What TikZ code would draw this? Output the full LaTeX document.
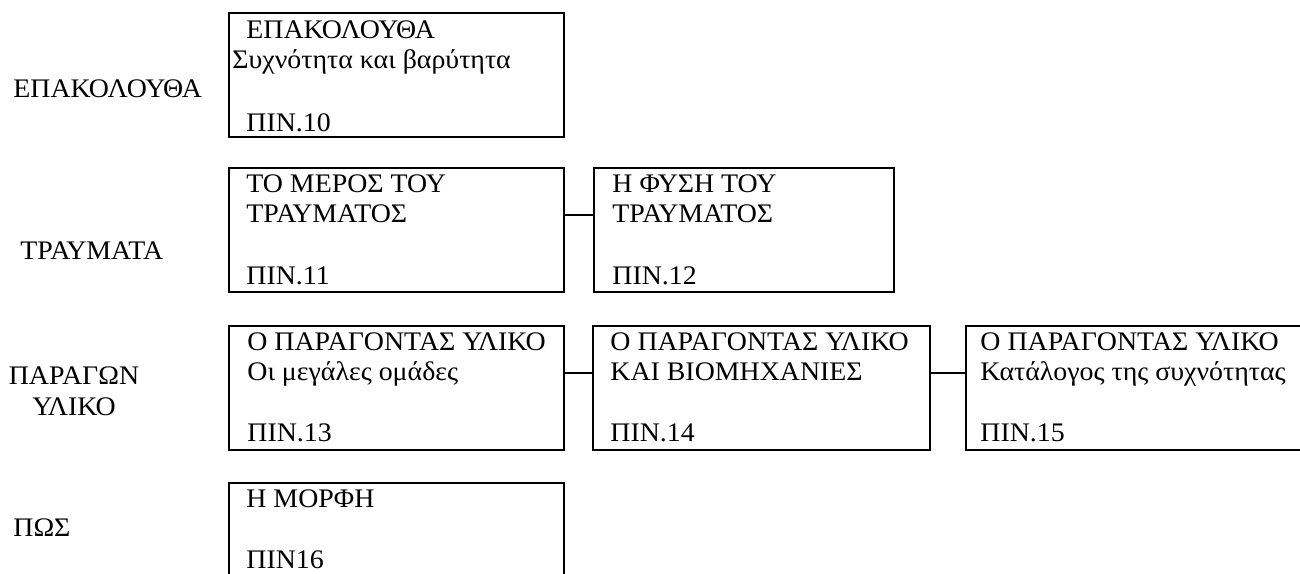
\documentclass[tikz,border=0pt]{standalone}
\usepackage{fontspec}
\setmainfont[FakeStretch=1.04]{Liberation Serif}
\usetikzlibrary{calc}
\begin{document}
\begin{tikzpicture}[x=0.5pt,y=-0.5pt,
  box/.style={draw, line width=0.9pt, rectangle, anchor=north west, inner sep=0pt, outer sep=0pt, minimum height=62pt},
  col1/.style={box, minimum width=167.5pt},
  col2/.style={box, minimum width=168.5pt},
  txt/.style={anchor=base west, inner sep=0pt, font=\fontsize{13.4}{15.5}\selectfont},
  lab/.style={anchor=base west, inner sep=0pt, font=\fontsize{13.4}{15.5}\selectfont},
  labc/.style={anchor=base, inner sep=0pt, font=\fontsize{13.4}{15.5}\selectfont},
  link/.style={draw, line width=0.9pt}]
\useasboundingbox (0,0) rectangle (1300,573);
\clip (0,0) rectangle (1300,573);
% row labels
\node[lab] (l1) at (13,97) {ΕΠΑΚΟΛΟΥΘΑ};
\node[lab] (l2) at (20,259) {ΤΡΑΥΜΑΤΑ};
\node[labc] (l3a) at (74,384) {ΠΑΡΑΓΩΝ};
\node[labc] (l3b) at (74,415) {ΥΛΙΚΟ};
\node[lab] (l4) at (13,536) {ΠΩΣ};
% row 1
\node[col1] (b10) at (229,13) {};
\node[txt] (t10a) at (246,38) {ΕΠΑΚΟΛΟΥΘΑ};
\node[txt] (t10b) at (232,68) {Συχνότητα και βαρύτητα};
\node[txt] (t10c) at (246,131) {ΠΙΝ.10};
% row 2
\node[col1] (b11) at (229,168) {};
\node[txt] (t11a) at (246,192) {ΤΟ ΜΕΡΟΣ ΤΟΥ};
\node[txt] (t11b) at (246,222) {ΤΡΑΥΜΑΤΟΣ};
\node[txt] (t11c) at (246,284) {ΠΙΝ.11};
\node[box, minimum width=150pt] (b12) at (594,168) {};
\node[txt] (t12a) at (612,192) {Η ΦΥΣΗ ΤΟΥ};
\node[txt] (t12b) at (612,222) {ΤΡΑΥΜΑΤΟΣ};
\node[txt] (t12c) at (612,284) {ΠΙΝ.12};
\draw[link] ($(b11.north east)+(0,47)$) -- ($(b12.north west)+(0,47)$);
% row 3
\node[col1] (b13) at (229,326) {};
\node[txt] (t13a) at (247,350) {Ο ΠΑΡΑΓΟΝΤΑΣ ΥΛΙΚΟ};
\node[txt] (t13b) at (247,380) {Οι μεγάλες ομάδες};
\node[txt] (t13c) at (247,441) {ΠΙΝ.13};
\node[col2] (b14) at (593,326) {};
\node[txt] (t14a) at (610,350) {Ο ΠΑΡΑΓΟΝΤΑΣ ΥΛΙΚΟ};
\node[txt] (t14b) at (610,380) {ΚΑΙ ΒΙΟΜΗΧΑΝΙΕΣ};
\node[txt] (t14c) at (610,441) {ΠΙΝ.14};
\node[box, minimum width=180pt] (b15) at (966,326) {};
\node[txt] (t15a) at (980,350) {Ο ΠΑΡΑΓΟΝΤΑΣ ΥΛΙΚΟ};
\node[txt] (t15b) at (980,380) {Κατάλογος της συχνότητας};
\node[txt] (t15c) at (980,441) {ΠΙΝ.15};
\draw[link] ($(b13.north east)+(0,47)$) -- ($(b14.north west)+(0,47)$);
\draw[link] ($(b14.north east)+(0,47)$) -- ($(b15.north west)+(0,47)$);
% row 4
\node[col1] (b16) at (229,483) {};
\node[txt] (t16a) at (246,507) {Η ΜΟΡΦΗ};
\node[txt] (t16b) at (246,568) {ΠΙΝ16};
\end{tikzpicture}
\end{document}
